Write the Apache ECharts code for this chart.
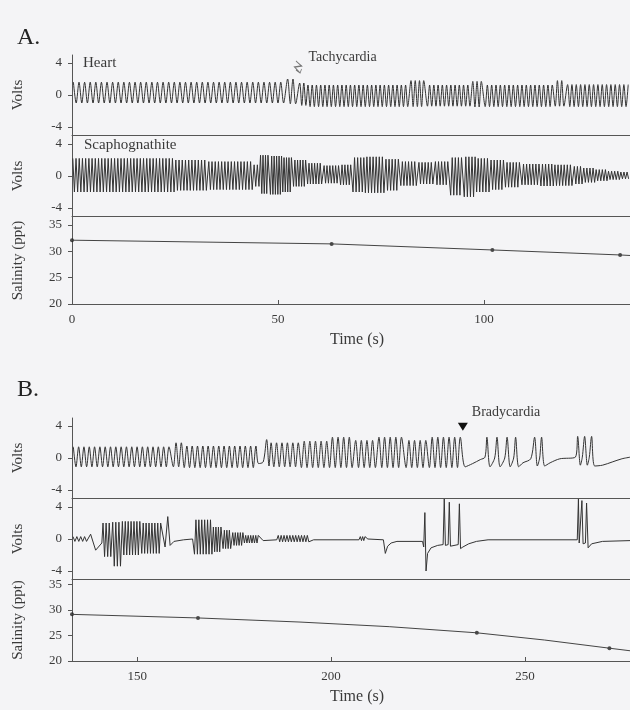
<!DOCTYPE html>
<html><head><meta charset="utf-8">
<script src="https://cdn.jsdelivr.net/npm/echarts@6/dist/echarts.min.js"></script>
<style>html,body{margin:0;padding:0;background:#f4f4f6;}#c{width:630px;height:710px;}</style>
</head><body><div id="c"></div>
<script>
// Oscillation segments: [tStart, tEnd, period, peak, trough]; explicit samples: [t, volts]
const heartA = [
  [0, 52, 1.36, 1.6, -1.0], [52, 55, 1.3, 2.0, -1.1], [55, 57, 1.0, 1.5, -1.3],
  [57, 82, 1.03, 1.25, -1.45], [82, 86, 1.03, 1.8, -1.45], [86, 97, 1.03, 1.25, -1.4],
  [97, 100, 1.03, 1.7, -1.5], [100, 117, 1.05, 1.25, -1.45], [117, 120, 1.05, 1.8, -1.4],
  [120, 135.4, 1.05, 1.3, -1.45]
];
const scaphA = [
  [0, 25, 0.78, 2.2, -2.0], [25, 33, 0.78, 2.0, -1.8], [33, 44, 0.78, 1.8, -1.7],
  [44, 45.6, 0.78, 1.4, -1.3], [45.6, 48, 0.6, 2.6, -2.2], [48, 51, 0.6, 2.5, -2.3],
  [51, 53.6, 0.6, 2.3, -2.0], [53.6, 57, 0.65, 2.0, -1.3], [57, 61, 0.68, 1.6, -1.0],
  [61, 65, 0.7, 1.3, -0.9], [65, 68, 0.7, 1.4, -1.1], [68, 71, 0.75, 2.3, -2.0],
  [71, 76, 0.75, 2.4, -2.1], [76, 79.6, 0.75, 2.1, -1.8], [79.6, 84, 0.75, 1.8, -1.2],
  [84, 88, 0.75, 1.7, -1.0], [88, 91.7, 0.75, 1.8, -1.1], [91.7, 95, 0.75, 2.3, -2.4],
  [95, 98, 0.75, 2.4, -2.6], [98, 101.5, 0.75, 2.2, -2.0], [101.5, 105, 0.75, 2.0, -1.7],
  [105, 109, 0.75, 1.7, -1.4], [109, 113.6, 0.75, 1.5, -1.1], [113.6, 117, 0.75, 1.5, -1.25],
  [117, 121.7, 0.75, 1.4, -1.2], [121.7, 124, 0.75, 1.2, -1.0], [124, 127, 0.75, 1.0, -0.8],
  [127, 130, 0.75, 0.8, -0.6], [130, 133, 0.75, 0.6, -0.45], [133, 135.4, 0.75, 0.5, -0.35]
];
const heartB = [
  [133.2, 159.0, 1.37, 1.4, -1.1], [159.0, 161.8, 1.37, 1.9, -1.1], [161.8, 181.0, 1.37, 1.5, -1.2],
  [181.3, -0.7], [182.5, -0.5], [183.4, 2.3], [184.0, -1.0],
  [184.2, 192, 1.4, 1.9, -1.1], [192, 200, 1.45, 2.1, -1.2], [200, 206, 1.45, 2.6, -1.2],
  [206, 212, 1.45, 2.2, -1.2], [212, 219, 1.45, 2.6, -1.2], [219, 225, 1.45, 2.2, -1.2],
  [225, 234, 1.45, 2.6, -1.2],
  [234.6, -1.1], [236.5, -0.7], [238.5, -0.2], [239.7, 0.1], [240.2, 2.6], [241.0, -1.1],
  [242.2, 0.0], [242.8, 2.6], [243.6, -1.1], [244.8, 0.0], [245.4, 2.6], [246.2, -1.1],
  [247.1, 0.0], [247.6, 2.6], [248.4, -1.1], [249.5, -0.6], [251.5, -0.1], [252.5, 2.6],
  [253.2, -1.0], [253.8, 0.0], [254.3, 2.6], [255.1, -1.0], [256.5, -0.6], [259, -0.1],
  [263.0, 0.1], [263.6, 2.7], [264.3, -0.9], [264.8, 0.1], [265.4, 2.7], [266.1, -0.9],
  [266.6, 0.1], [267.2, 2.7], [268.0, -1.0], [270.0, -0.9], [272.5, -0.5], [275, -0.1], [277.1, 0.1]
];
const scaphB = [
  [133.2, 137.6, 1.0, 0.3, -0.3],
  [138.0, 0.6], [139.3, -1.4], [140.9, -0.5],
  [141.0, 143.5, 0.8, 2.0, -2.2], [143.5, 146.0, 0.8, 2.1, -3.4], [146.0, 151.0, 0.75, 2.2, -2.0],
  [151.0, 156.5, 0.75, 2.0, -1.8],
  [157.2, -1.0], [157.9, 2.8], [158.5, -0.8], [159.5, -0.3], [162, -0.1], [164.3, 0.0],
  [164.6, 169.5, 0.75, 2.4, -1.9], [169.5, 172, 0.65, 1.5, -1.6], [172, 174.5, 0.65, 1.1, -1.2],
  [174.5, 177.5, 0.65, 0.8, -0.8], [177.5, 181.5, 0.65, 0.45, -0.5],
  [182.5, -0.2], [186, -0.1],
  [186.2, 194.5, 0.75, 0.45, -0.35],
  [195.5, -0.1], [207.2, -0.1],
  [207.4, 209.2, 0.6, 0.3, -0.2],
  [209.5, 0.0], [213.5, -0.1], [214.0, -1.8], [214.6, -0.9], [215.5, -0.5], [217, -0.3],
  [223.6, -0.3], [223.9, -1.0], [224.2, 3.3], [224.5, -4.0], [224.9, -1.8], [225.8, -1.1],
  [227.5, -0.8], [228.9, -0.7], [229.2, 5.0], [229.5, -0.8], [230.2, -0.7], [230.5, 4.6],
  [230.8, -0.9], [232.8, -0.7], [233.1, 4.4], [233.4, -1.2], [234.0, -1.0], [235.5, -0.6],
  [237.5, -0.3], [240.5, -0.1], [263.5, -0.1], [263.8, 5.0], [264.0, -0.5], [264.4, -0.4],
  [264.7, 4.8], [265.0, -0.6], [265.6, -0.5], [265.9, 4.5], [266.3, -1.1], [267.2, -0.6],
  [270, -0.3], [277.1, -0.2]
];
const salA_t = [0, 63, 102, 133, 135.4];
const salA_v = [32.1, 31.4, 30.25, 29.3, 29.2];
const salA_dots = [0, 1, 2, 3];
const salB_t = [133.2, 165.7, 192, 215, 237.6, 255, 271.8, 277.1];
const salB_v = [29.1, 28.4, 27.6, 26.7, 25.5, 24.1, 22.5, 22.0];
const salB_dots = [0, 1, 4, 6];
const voltTicks = [-4, 0, 4];
const salTicks = [20, 25, 30, 35];
const timeTicksA = [0, 50, 100];
const timeTicksB = [150, 200, 250];

function build(items) {
  const out = [];
  let up = true;
  items.forEach(it => {
    if (it.length === 2) { out.push(it); up = it[1] < 0; return; }
    const [t0, t1, p, hi, lo] = it;
    const n = Math.floor((t1 - t0) / (p / 2));
    for (let k = 0; k < n; k++) {
      out.push([t0 + (k + 0.5) * p / 2, up ? hi : lo]);
      up = !up;
    }
  });
  return out;
}

const FONT = '"Liberation Serif", "DejaVu Serif", serif';
const INK = '#3a3a3a';
const grids = [
  {left: 72, right: 0, top: 55, height: 80},
  {left: 72, right: 0, top: 136, height: 80},
  {left: 72, right: 0, top: 217, height: 87},
  {left: 72, right: 0, top: 418, height: 80},
  {left: 72, right: 0, top: 499, height: 80},
  {left: 72, right: 0, top: 579, height: 82}
];
function xAx(i, min, max, ticks) {
  const show = !!ticks;
  return {
    type: 'value', gridIndex: i, min, max,
    axisLine: {show: true, onZero: false, lineStyle: {color: '#555', width: 1}},
    axisTick: show ? {show: true, inside: true, length: 4, customValues: ticks, lineStyle: {color: '#555'}} : {show: false},
    axisLabel: show ? {show: true, customValues: ticks, margin: 9, fontFamily: FONT, fontSize: 13, color: INK} : {show: false},
    splitLine: {show: false},
    name: show ? 'Time (s)' : '', nameLocation: 'middle', nameGap: 28,
    nameTextStyle: {fontFamily: FONT, fontSize: 16, color: INK, padding: [0, 0, 0, 12]}
  };
}
function yAx(i, min, max, ticks, name) {
  return {
    type: 'value', gridIndex: i, min, max,
    axisLine: {show: true, onZero: false, lineStyle: {color: '#555', width: 1}},
    axisTick: {show: true, length: 4, customValues: ticks, lineStyle: {color: '#555'}},
    axisLabel: {show: true, customValues: ticks, margin: 10, fontFamily: FONT, fontSize: 13, color: INK,
      formatter: v => String(v).replace('\u2212', '-')},
    splitLine: {show: false},
    name, nameLocation: 'middle', nameGap: 46,
    nameTextStyle: {fontFamily: FONT, fontSize: 15, color: INK}
  };
}
function trace(i, items, smooth, mp) {
  const s = {
    type: 'line', xAxisIndex: i, yAxisIndex: i, data: build(items), showSymbol: false,
    smooth: smooth, clip: true,
    lineStyle: {color: '#333', width: 1}, animation: false, silent: true
  };
  if (mp) s.markPoint = mp;
  return s;
}
function sal(i, ts, vs, dots) {
  return [
    {type: 'line', xAxisIndex: i, yAxisIndex: i, data: ts.map((t, k) => [t, vs[k]]), showSymbol: false,
      lineStyle: {color: '#444', width: 1}, animation: false, silent: true},
    {type: 'scatter', xAxisIndex: i, yAxisIndex: i, data: dots.map(k => [ts[k], vs[k]]),
      symbolSize: 4, itemStyle: {color: '#222'}, animation: false, silent: true}
  ];
}

const chart = echarts.init(document.getElementById('c'), null, {renderer: 'canvas'});
chart.setOption({
  backgroundColor: '#f4f4f6',
  animation: false,
  title: [
    {text: 'A.', left: 17, top: 26, padding: 0, textStyle: {fontFamily: FONT, fontSize: 24, fontWeight: 'normal', color: '#222'}},
    {text: 'B.', left: 17, top: 378, padding: 0, textStyle: {fontFamily: FONT, fontSize: 24, fontWeight: 'normal', color: '#222'}},
    {text: 'Heart', left: 83, top: 56, padding: 0, textStyle: {fontFamily: FONT, fontSize: 15, fontWeight: 'normal', color: INK}},
    {text: 'Scaphognathite', left: 84, top: 138, padding: 0, textStyle: {fontFamily: FONT, fontSize: 15, fontWeight: 'normal', color: INK}}
  ],
  grid: grids,
  xAxis: [
    xAx(0, 0, 135.4), xAx(1, 0, 135.4), xAx(2, 0, 135.4, timeTicksA),
    xAx(3, 133.2, 277.1), xAx(4, 133.2, 277.1), xAx(5, 133.2, 277.1, timeTicksB)
  ],
  yAxis: [
    yAx(0, -5, 5, voltTicks, 'Volts'), yAx(1, -5, 5, voltTicks, 'Volts'), yAx(2, 20, 36.5, salTicks, 'Salinity (ppt)'),
    yAx(3, -5, 5, voltTicks, 'Volts'), yAx(4, -5, 5, voltTicks, 'Volts'), yAx(5, 20, 36.0, salTicks, 'Salinity (ppt)')
  ],
  series: [
    trace(0, heartA, 0.3, {
      animation: false,
      data: [{coord: [54.85, 3.5], symbol: 'path://M2,0 L6,5 L1,6 L5,12 M2,9 L5,12 L6,8', symbolSize: [7, 12],
        itemStyle: {color: 'none', borderColor: '#777', borderWidth: 1},
        label: {show: true, formatter: 'Tachycardia', position: 'right', distance: 0, offset: [5, -10],
          fontFamily: FONT, fontSize: 14, color: INK}}]
    }),
    trace(1, scaphA, false),
    ...sal(2, salA_t, salA_v, salA_dots),
    trace(3, heartB, 0.3, {
      animation: false,
      data: [{coord: [234.0, 3.9], symbol: 'triangle', symbolRotate: 180, symbolSize: [10, 8],
        itemStyle: {color: '#111'},
        label: {show: true, formatter: 'Bradycardia', position: 'right', distance: 0, offset: [4, -14],
          fontFamily: FONT, fontSize: 14, color: INK}}]
    }),
    trace(4, scaphB, false),
    ...sal(5, salB_t, salB_v, salB_dots)
  ]
});
</script>
</body></html>
